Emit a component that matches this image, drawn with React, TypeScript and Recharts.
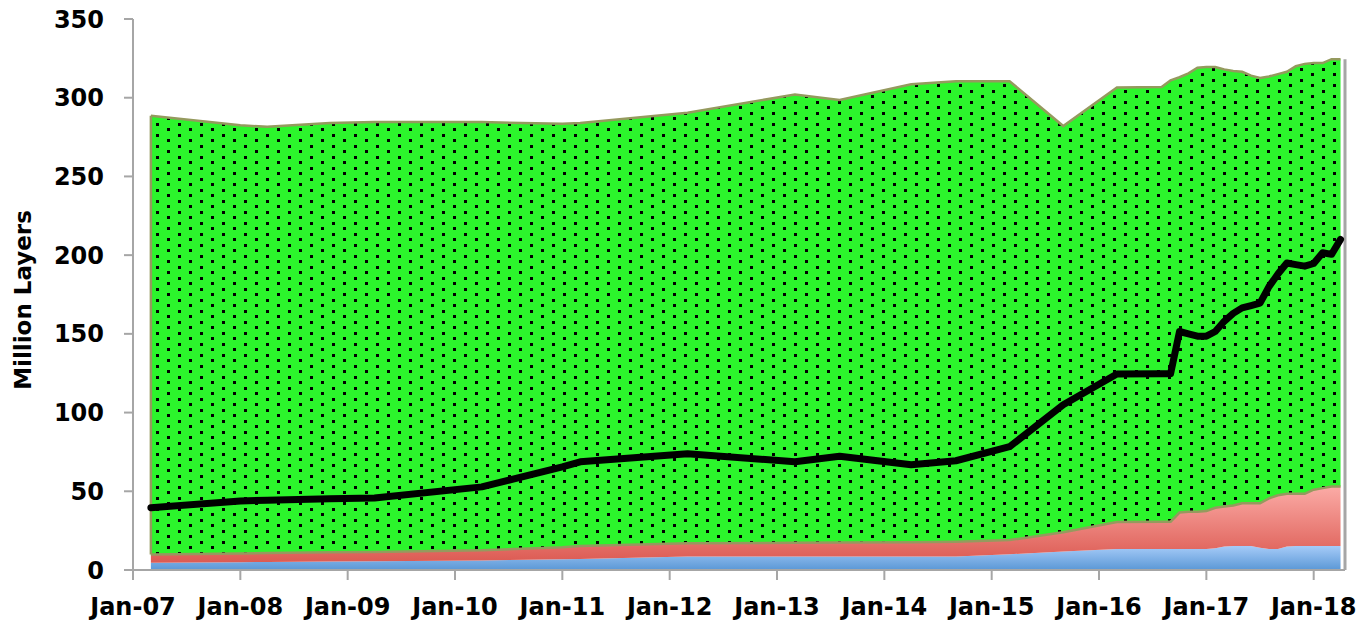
import React from 'react';
import {
  ComposedChart,
  Area,
  Line,
  XAxis,
  YAxis,
  ReferenceLine
} from 'recharts';

// dates of the readings (year-month)
const dates = [
  '2007-03', '2008-01', '2008-04', '2008-11', '2009-04', '2010-04', '2011-01', '2011-03',
  '2012-03', '2013-03', '2013-08', '2014-04', '2014-09', '2015-03', '2015-09', '2016-03',
  '2016-08', '2016-09', '2016-10', '2016-11', '2016-12', '2017-01', '2017-02', '2017-03',
  '2017-04', '2017-05', '2017-06', '2017-07', '2017-08', '2017-09', '2017-10', '2017-11',
  '2017-12', '2018-01', '2018-02', '2018-03', '2018-04'
];

// bottom layer (blue)
const blueLayer = [
  4.6, 5.0, 5.1, 5.4, 5.6, 6.1, 6.8, 7.0,
  8.5, 8.5, 8.5, 8.5, 8.5, 10.0, 11.8, 13.4,
  13.4, 13.4, 13.4, 13.4, 13.4, 13.4, 13.8, 15.0,
  15.3, 15.3, 15.3, 14.2, 13.4, 13.4, 15.0, 15.3,
  15.3, 15.3, 15.3, 15.3, 15.3
];

// middle layer (red)
const redLayer = [
  5.2, 5.5, 5.7, 5.8, 5.9, 6.4, 7.7, 8.3,
  8.5, 8.8, 9.0, 9.2, 9.5, 9.0, 12.2, 17.1,
  17.3, 17.3, 23.1, 23.6, 23.6, 24.1, 25.7, 25.3,
  25.7, 27.1, 27.1, 28.2, 32.1, 34.1, 33.4, 33.1,
  33.1, 35.7, 36.7, 37.7, 37.7
];

// top layer (green, dotted)
const greenLayer = [
  278.7, 272.0, 270.7, 272.8, 273.0, 272.0, 269.0, 268.7,
  273.5, 284.7, 281.0, 290.8, 292.5, 291.5, 258.0, 276.0,
  276.1, 280.3, 276.5, 278.5, 282.0, 282.0, 280.0, 277.7,
  276.0, 274.1, 271.6, 270.1, 268.0, 267.5, 268.1, 271.6,
  273.1, 271.0, 270.0, 271.5, 271.5
];

// black line
const lineValues = [
  39.6, 43.9, 44.3, 45.3, 45.8, 52.8, 65.5, 68.7,
  73.8, 68.8, 72.3, 66.8, 69.4, 78.3, 105.0, 124.5,
  124.7, 124.7, 151.5, 150.0, 148.5, 148.5, 151.5, 158.0,
  163.0, 166.5, 168.0, 169.5, 180.0, 188.0, 195.0, 194.0,
  193.0, 194.7, 201.5, 200.5, 210.0
];

const tickYears = ['07', '08', '09', '10', '11', '12', '13', '14', '15', '16', '17', '18'];
const yTicks = [0, 50, 100, 150, 200, 250, 300, 350];

const monthIndex = (d: string) => {
  const [y, m] = d.split('-').map(Number);
  return (y - 2007) * 12 + (m - 1);
};

const data = dates.map((d, i) => ({
  m: monthIndex(d),
  blue: blueLayer[i],
  red: redLayer[i],
  green: greenLayer[i],
  redTop: blueLayer[i] + redLayer[i],
  total: blueLayer[i] + redLayer[i] + greenLayer[i],
  line: lineValues[i]
}));

const xTicks = tickYears.map((_, i) => i * 12);
const font = '"DejaVu Sans", sans-serif';
const olive = '#959a5e';
const axisGray = '#a6a6a6';

const first = data[0];
const last = data[data.length - 1];

export default function App() {
  return (
    <div style={{ position: 'absolute', left: 0, top: 0, background: '#fff' }}>
      <ComposedChart
        width={1362}
        height={624}
        data={data}
        margin={{ top: 19, right: 17, left: 0, bottom: 0 }}
      >
        <defs>
          <pattern id="dots" patternUnits="userSpaceOnUse" width={22} height={11}>
            <rect x={0} y={0} width={22} height={11} fill="#2cf52c" />
            <rect x={2} y={2} width={3} height={3} fill="#000" />
            <rect x={13} y={7} width={3} height={3} fill="#000" />
          </pattern>
          <linearGradient id="redFill" x1="0" y1="0" x2="0" y2="1">
            <stop offset="0%" stopColor="#fbaba6" />
            <stop offset="100%" stopColor="#dc5a52" />
          </linearGradient>
          <linearGradient id="blueFill" x1="0" y1="0" x2="0" y2="1">
            <stop offset="0%" stopColor="#a6cbf8" />
            <stop offset="100%" stopColor="#5b98d6" />
          </linearGradient>
        </defs>
        <XAxis
          dataKey="m"
          type="number"
          domain={[0, 135.5]}
          ticks={xTicks}
          tickFormatter={(v: number) => 'Jan-' + tickYears[Math.round(v / 12)]}
          height={54}
          tickSize={10}
          tickMargin={18}
          stroke={axisGray}
          strokeWidth={2}
          tick={{ fill: '#000', fontSize: 24, fontWeight: 'bold', fontFamily: font }}
          interval={0}
          allowDataOverflow
        />
        <YAxis
          type="number"
          domain={[0, 350]}
          ticks={yTicks}
          width={133}
          tickSize={9}
          tickMargin={20}
          stroke={axisGray}
          strokeWidth={2}
          tick={{ fill: '#000', fontSize: 24, fontWeight: 'bold', fontFamily: font }}
          interval={0}
          label={{
            content: () => (
              <text
                x={23}
                y={300}
                transform="rotate(-90 23 300)"
                textAnchor="middle"
                dominantBaseline="central"
                fontSize={23}
                fontWeight="bold"
                fontFamily={font}
                fill="#000"
              >
                Million Layers
              </text>
            )
          }}
        />
        <Area
          type="linear"
          dataKey="blue"
          stackId="1"
          stroke="none"
          fill="url(#blueFill)"
          fillOpacity={1}
          isAnimationActive={false}
        />
        <Area
          type="linear"
          dataKey="red"
          stackId="1"
          stroke="none"
          fill="url(#redFill)"
          fillOpacity={1}
          isAnimationActive={false}
        />
        <Area
          type="linear"
          dataKey="green"
          stackId="1"
          stroke={olive}
          strokeWidth={2.5}
          fill="url(#dots)"
          fillOpacity={1}
          isAnimationActive={false}
        />
        <Line
          type="linear"
          dataKey="redTop"
          stroke={olive}
          strokeWidth={2.5}
          dot={false}
          isAnimationActive={false}
        />
        <ReferenceLine
          segment={[{ x: first.m, y: first.redTop }, { x: first.m, y: first.total }]}
          stroke={olive}
          strokeWidth={2.5}
        />
        <ReferenceLine
          segment={[{ x: 135.5, y: 0 }, { x: 135.5, y: last.total }]}
          stroke={axisGray}
          strokeWidth={3}
        />
        <Line
          type="linear"
          dataKey="line"
          stroke="#000"
          strokeWidth={7}
          strokeLinejoin="round"
          strokeLinecap="round"
          dot={false}
          isAnimationActive={false}
        />
      </ComposedChart>
    </div>
  );
}
